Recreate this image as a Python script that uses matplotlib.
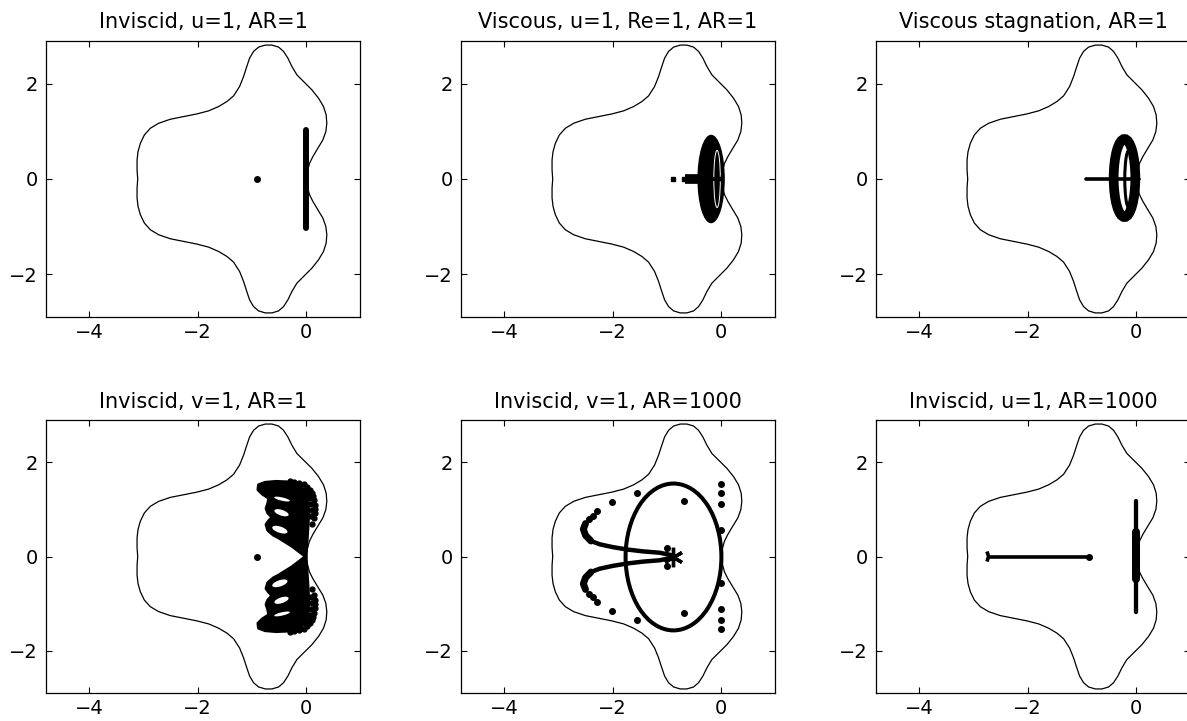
"""
Eigenvalue spectra inside the time-stepping stability region, six cases
"""

import matplotlib
matplotlib.use("Agg")
import matplotlib.pyplot as plt
from matplotlib.patches import Ellipse


# stability region boundary (closed curve through origin)
bnd_up_x = [0.0, 0.025, 0.068, 0.129, 0.221, 0.314, 0.369, 0.387, 0.375, 0.326,
            0.234, 0.111, -0.043, -0.166, -0.258, -0.332, -0.412, -0.504, -0.627,
            -0.750, -0.873, -0.966, -1.039, -1.101, -1.150, -1.224, -1.335, -1.458,
            -1.611, -1.796, -2.011, -2.257, -2.503, -2.718, -2.872, -2.983, -3.057,
            -3.100, -3.118, -3.118, -3.106]
bnd_up_y = [0.0, 0.154, 0.330, 0.470, 0.646, 0.821, 0.996, 1.172, 1.347, 1.523,
            1.698, 1.874, 2.049, 2.189, 2.365, 2.540, 2.681, 2.772, 2.814,
            2.814, 2.772, 2.681, 2.540, 2.330, 2.154, 1.944, 1.747, 1.628,
            1.523, 1.432, 1.368, 1.312, 1.256, 1.172, 1.067, 0.926, 0.751,
            0.575, 0.400, 0.189, 0.0]
bnd_dn_x = [-3.106, -3.118, -3.118, -3.100, -3.057, -2.983, -2.872, -2.718, -2.503,
            -2.257, -2.011, -1.796, -1.611, -1.458, -1.335, -1.224, -1.150, -1.101,
            -1.039, -0.966, -0.873, -0.750, -0.627, -0.504, -0.412, -0.332, -0.258,
            -0.166, -0.043, 0.111, 0.234, 0.326, 0.375, 0.387, 0.369, 0.314, 0.221,
            0.129, 0.068, 0.025, 0.0]
bnd_dn_y = [0.0, -0.189, -0.400, -0.575, -0.751, -0.926, -1.067, -1.172, -1.256,
            -1.312, -1.368, -1.432, -1.523, -1.628, -1.747, -1.944, -2.154, -2.330,
            -2.540, -2.681, -2.772, -2.814, -2.814, -2.772, -2.681, -2.540, -2.365,
            -2.189, -2.049, -1.874, -1.698, -1.523, -1.347, -1.172, -0.996, -0.821, -0.646,
            -0.470, -0.330, -0.154, 0.0]

titles = ["Inviscid, u=1, AR=1", "Viscous, u=1, Re=1, AR=1", "Viscous stagnation, AR=1",
          "Inviscid, v=1, AR=1", "Inviscid, v=1, AR=1000", "Inviscid, u=1, AR=1000"]

# panel 1: inviscid u=1, AR=1
p1_bar_y = [-1.03, 1.03]
p1_dot = (-0.91, 0.0)

# panel 2: viscous u=1, Re=1
p2_blob = dict(xy=(-0.18, 0.0), width=0.48, height=1.83)
p2_gap = dict(xy=(-0.07, 0.0), width=0.12, height=1.2)
p2_stem_x = [-0.66, -0.32]
p2_tail_x = [-0.32, 0.03]
p2_dots_x = [-0.89, -0.69]

# panel 3: viscous stagnation
p3_ring = dict(xy=(-0.21, 0.02), width=0.40, height=1.64)
p3_inner = dict(xy=(-0.13, 0.0), width=0.15, height=1.2)
p3_line_x = [-0.93, 0.05]

# panel 4: inviscid v=1, AR=1 -- dense fan of loops (outline of the dark mass)
p4_up_x = [0.0, -0.25, -0.50, -0.60, -0.70, -0.73, -0.68, -0.62, -0.70, -0.73, -0.70,
           -0.68, -0.80, -0.88, -0.87, -0.75, -0.55, -0.35, -0.18, -0.05, 0.03, 0.05,
           0.03, 0.0]
p4_up_y = [0.0, 0.22, 0.40, 0.46, 0.56, 0.68, 0.76, 0.83, 0.93, 1.02, 1.12,
           1.24, 1.33, 1.42, 1.52, 1.57, 1.59, 1.58, 1.52, 1.42, 1.25, 0.95,
           0.55, 0.0]
p4_dn_x = [0.0, -0.25, -0.50, -0.60, -0.70, -0.73, -0.68, -0.62, -0.70, -0.73, -0.70,
           -0.68, -0.80, -0.88, -0.87, -0.75, -0.55, -0.35, -0.18, -0.05, 0.03, 0.05,
           0.03, 0.0]
p4_dn_y = [0.0, -0.22, -0.40, -0.46, -0.56, -0.68, -0.76, -0.83, -0.93, -1.02, -1.12,
           -1.24, -1.33, -1.42, -1.52, -1.57, -1.59, -1.58, -1.52, -1.42, -1.25, -0.95,
           -0.55, 0.0]
# white gaps between the loops: x, y, width, height, angle
p4_holes = [(-0.44, 1.22, 0.30, 0.07, -15), (-0.45, 0.93, 0.28, 0.12, -22),
            (-0.48, 0.57, 0.30, 0.13, -22), (-0.48, -0.57, 0.30, 0.13, 22),
            (-0.45, -0.93, 0.28, 0.12, 22), (-0.44, -1.22, 0.30, 0.07, 15)]
# separate points along the outer rim of the loops
p4_rim_x = [-0.30, -0.21, -0.129, -0.037, 0.025, 0.074, 0.105, 0.129, 0.148, 0.160, 0.166,
            0.160, 0.148, 0.12,
            -0.30, -0.21, -0.129, -0.037, 0.025, 0.074, 0.105, 0.129, 0.148, 0.160, 0.166,
            0.160, 0.148, 0.12]
p4_rim_y = [1.60, 1.59, 1.56, 1.53, 1.48, 1.42, 1.35, 1.28, 1.20, 1.10, 1.01,
            0.93, 0.82, 0.68,
            -1.60, -1.59, -1.56, -1.53, -1.48, -1.42, -1.35, -1.28, -1.20, -1.10, -1.01,
            -0.93, -0.82, -0.68]
p4_rim2_x = [-0.20, -0.10, -0.02, 0.04, 0.08, 0.10, 0.11, 0.10,
             -0.20, -0.10, -0.02, 0.04, 0.08, 0.10, 0.11, 0.10]
p4_rim2_y = [1.50, 1.47, 1.42, 1.35, 1.25, 1.12, 0.98, 0.85,
             -1.50, -1.47, -1.42, -1.35, -1.25, -1.12, -0.98, -0.85]
p4_dot = (-0.91, 0.0)

# panel 5: inviscid v=1, AR=1000
p5_ellipse = dict(xy=(-0.875, -0.01), width=1.77, height=3.12)
p5_horn_up_x = [-0.88, -1.13, -1.45, -1.74, -2.00, -2.24, -2.40, -2.50, -2.54, -2.50]
p5_horn_up_y = [0.02, 0.08, 0.11, 0.15, 0.20, 0.26, 0.33, 0.45, 0.58, 0.70]
p5_horn_dn_x = [-0.88, -1.13, -1.45, -1.74, -2.00, -2.24, -2.40, -2.50, -2.54, -2.50]
p5_horn_dn_y = [-0.02, -0.08, -0.11, -0.15, -0.20, -0.26, -0.33, -0.45, -0.58, -0.70]
p5_dots_x = [-2.43, -2.37, -2.28, -2.02, -1.55, -2.43, -2.37, -2.28, -2.02, -1.55,
             -0.68, -0.68, 0.01, 0.01, 0.01, 0.01, 0.01, 0.01, 0.01, 0.01, -1.0, -1.0]
p5_dots_y = [0.79, 0.86, 0.96, 1.15, 1.35, -0.79, -0.86, -0.96, -1.15, -1.35,
             1.18, -1.19, 1.53, 1.34, 1.12, -1.11, -1.34, -1.53, 0.56, -0.56, 0.19, -0.2]
p5_star = (-0.88, 0.0)

# panel 6: inviscid u=1, AR=1000
p6_line_x = [-2.68, -0.86]
p6_tip_x = [-2.74, -2.72, -2.74]
p6_tip_y = [0.07, 0.0, -0.07]
p6_bar_y = [-1.18, 1.17]
p6_core_y = [-0.48, 0.51]

XLIM = (-4.8, 1.0)
YLIM = (-2.9, 2.9)
FS = 14
FS_TITLE = 15

plt.rcParams["font.family"] = ["DejaVu Sans"]

fig = plt.figure(figsize=(11.87, 7.21), dpi=100)
W, H = 1187.0, 721.0
lefts = [46, 461, 876]
rows = [(41, 317), (420, 693)]
axes = []
for top, bot in rows:
    for lx in lefts:
        ax = fig.add_axes([lx / W, 1 - bot / H, 314 / W, (bot - top) / H])
        axes.append(ax)

for ax, title in zip(axes, titles):
    ax.plot(bnd_up_x + bnd_dn_x, bnd_up_y + bnd_dn_y, color="black", lw=0.9)
    ax.set_xlim(*XLIM)
    ax.set_ylim(*YLIM)
    ax.set_xticks([-4, -2, 0])
    ax.set_yticks([-2, 0, 2])
    ax.tick_params(direction="in", top=True, right=True, length=4, width=0.8,
                   labelsize=FS)
    ax.tick_params(axis="y", pad=6)
    ax.tick_params(axis="x", pad=4)
    for sp in ax.spines.values():
        sp.set_linewidth(0.9)
    ax.set_title(title, fontsize=FS_TITLE, pad=9)

k = dict(color="black")

# panel 1
ax = axes[0]
ax.plot([0, 0], p1_bar_y, lw=4.3, solid_capstyle="round", **k)
ax.plot(*p1_dot, "o", ms=4, **k)

# panel 2
ax = axes[1]
ax.add_patch(Ellipse(**p2_blob, facecolor="black", edgecolor="black", lw=1))
ax.add_patch(Ellipse(**p2_gap, facecolor="none", edgecolor="white", lw=0.7))
ax.plot(p2_stem_x, [0, 0], lw=7, solid_capstyle="butt", **k)
ax.plot(p2_tail_x, [0, 0], lw=3, solid_capstyle="butt", **k)
ax.plot(p2_dots_x, [0, 0], "s", ms=3.5, **k)

# panel 3
ax = axes[2]
ax.add_patch(Ellipse(**p3_ring, facecolor="none", edgecolor="black", lw=7))
ax.add_patch(Ellipse(**p3_inner, facecolor="none", edgecolor="black", lw=2.2))
ax.plot(p3_line_x, [0, 0], lw=2.6, solid_capstyle="round", **k)

# panel 4
ax = axes[3]
ax.fill(p4_up_x, p4_up_y, facecolor="black", edgecolor="black", lw=2.5, joinstyle="round")
ax.fill(p4_dn_x, p4_dn_y, facecolor="black", edgecolor="black", lw=2.5, joinstyle="round")
for hx, hy, hw, hh, ang in p4_holes:
    ax.add_patch(Ellipse((hx, hy), hw, hh, angle=ang, facecolor="white", edgecolor="none"))
ax.plot(p4_rim_x, p4_rim_y, "o", ms=3.5, ls="none", **k)
ax.plot(p4_rim2_x, p4_rim2_y, "o", ms=3.5, ls="none", **k)
ax.plot(*p4_dot, "o", ms=4, **k)

# panel 5
ax = axes[4]
ax.add_patch(Ellipse(**p5_ellipse, facecolor="none", edgecolor="black", lw=2.9))
ax.plot(p5_horn_up_x, p5_horn_up_y, lw=3.2, solid_capstyle="round", **k)
ax.plot(p5_horn_dn_x, p5_horn_dn_y, lw=3.2, solid_capstyle="round", **k)
ax.plot(p5_horn_up_x[6:], p5_horn_up_y[6:], lw=5, solid_capstyle="round", **k)
ax.plot(p5_horn_dn_x[6:], p5_horn_dn_y[6:], lw=5, solid_capstyle="round", **k)
ax.plot(p5_dots_x, p5_dots_y, "o", ms=4, ls="none", **k)
ax.plot(*p5_star, marker=(6, 2, 0), ms=14, mew=2.4, ls="none", **k)

# panel 6
ax = axes[5]
ax.plot(p6_line_x, [0, 0], lw=2.6, **k)
ax.plot(-0.86, 0, "o", ms=4, **k)
ax.plot(p6_tip_x, p6_tip_y, lw=2.6, **k)
ax.plot([0, 0], p6_bar_y, lw=3.1, solid_capstyle="round", **k)
ax.plot([0, 0], p6_core_y, lw=5.8, solid_capstyle="round", **k)

fig.savefig("out.png", dpi=100)
